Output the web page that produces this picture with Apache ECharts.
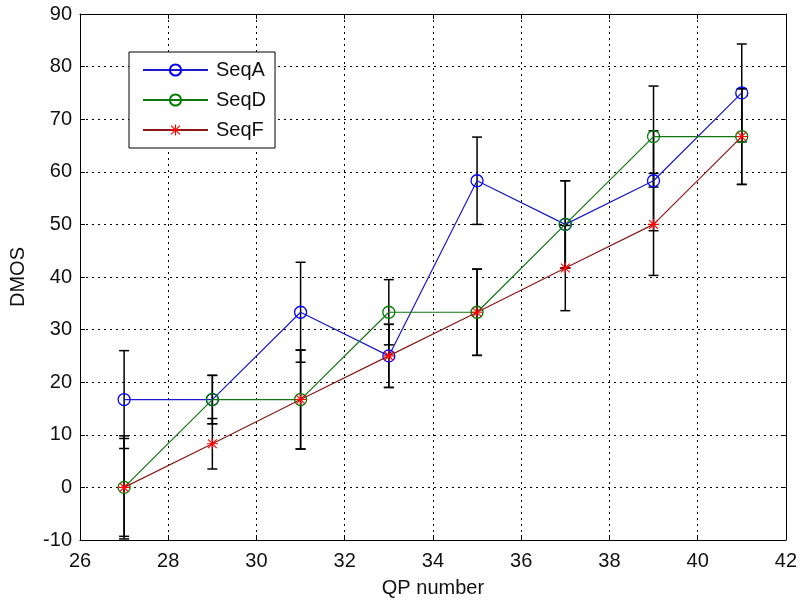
<!DOCTYPE html>
<html>
<head>
    <meta charset="utf-8"/>
    <title>DMOS vs QP</title>
    <script src="https://cdn.jsdelivr.net/npm/echarts@6/dist/echarts.min.js"></script>
    <style>
        html, body { margin: 0; padding: 0; background: #fff; }
        #chart1 { width: 800px; height: 603px; }
    </style>
</head>
<body>
<div id="chart1"></div>
<script type="text/javascript">
    // data
    var qp = [27, 29, 31, 33, 35, 37, 39, 41];
    var seqA = [16.7, 16.7, 33.3, 25, 58.3, 50, 58.3, 75];
    var seqD = [0, 16.7, 16.7, 33.3, 33.3, 50, 66.7, 66.7];
    var seqF = [0, 8.3, 16.7, 25, 33.3, 41.7, 50, 66.7];
    // half length of the error bars
    var errA = [9.3, 4.6, 9.5, 6.0, 8.3, 8.3, 9.5, 9.3];
    var errD = [9.3, 4.6, 9.4, 6.2, 8.2, 8.3, 9.6, 9.1];
    var errF = [9.8, 4.8, 9.4, 6.0, 8.2, 8.1, 9.7, 9.1];
    var xTicks = [26, 28, 30, 32, 34, 36, 38, 40, 42];
    var yTicks = [-10, 0, 10, 20, 30, 40, 50, 60, 70, 80, 90];

    var font = 'Liberation Sans, Arial, sans-serif';
    // asterisk marker like matlab '*'
    var star = 'path://M0 9L20 9L20 11L0 11Z M9 0L11 0L11 20L9 20Z M1.4 2.8L2.8 1.4L18.6 17.2L17.2 18.6Z M17.2 1.4L18.6 2.8L2.8 18.6L1.4 17.2Z';

    function pts(ys) {
        return qp.map(function (x, i) { return [x, ys[i]]; });
    }
    function bars(ys, es) {
        return qp.map(function (x, i) { return [x, ys[i] - es[i], ys[i] + es[i]]; });
    }
    function errSeries(name, ys, es) {
        return {
            name: name,
            type: 'custom',
            z: 1,
            silent: true,
            data: bars(ys, es),
            renderItem: function (params, api) {
                var lo = api.coord([api.value(0), api.value(1)]);
                var hi = api.coord([api.value(0), api.value(2)]);
                var w = 5;
                var st = { stroke: '#000', lineWidth: 1.5 };
                return {
                    type: 'group',
                    children: [
                        { type: 'line', shape: { x1: lo[0], y1: lo[1], x2: hi[0], y2: hi[1] }, style: st },
                        { type: 'line', shape: { x1: lo[0] - w, y1: lo[1], x2: lo[0] + w, y2: lo[1] }, style: st },
                        { type: 'line', shape: { x1: hi[0] - w, y1: hi[1], x2: hi[0] + w, y2: hi[1] }, style: st }
                    ]
                };
            }
        };
    }

    var myChart1 = echarts.init(document.getElementById('chart1'));
    var axisLine = { onZero: false, lineStyle: { color: '#000', width: 1 } };
    var tick = { inside: true, length: 5, lineStyle: { color: '#000' } };
    var grid = { show: true, lineStyle: { color: '#000', type: [2, 4], width: 1 } };
    var lbl = { color: '#111', fontFamily: font, fontSize: 20 };

    myChart1.setOption({
        animation: false,
        backgroundColor: '#fff',
        grid: { left: 80, right: 10, top: 14, bottom: 57 },
        legend: {
            data: ['SeqA', 'SeqD', 'SeqF'],
            orient: 'vertical',
            left: 129,
            top: 52,
            backgroundColor: '#fff',
            borderColor: '#000',
            borderWidth: 1,
            borderRadius: 0,
            padding: [8, 9, 8, 13],
            itemWidth: 65,
            itemHeight: 14,
            itemGap: 10,
            textStyle: { color: '#111', fontFamily: font, fontSize: 20, lineHeight: 20, padding: [0, 0, 0, 3] }
        },
        xAxis: [{
            type: 'value', min: 26, max: 42, interval: 2,
            name: 'QP number', nameLocation: 'middle', nameGap: 38,
            nameTextStyle: lbl,
            axisLine: axisLine, axisTick: tick, splitLine: grid,
            axisLabel: Object.assign({ margin: 11 }, lbl)
        }, {
            type: 'value', min: 26, max: 42, interval: 2, position: 'top',
            axisLine: axisLine, axisTick: tick, splitLine: { show: false },
            axisLabel: { show: false }
        }],
        yAxis: [{
            type: 'value', min: -10, max: 90, interval: 10,
            name: 'DMOS', nameLocation: 'middle', nameGap: 52, nameRotate: 90,
            nameTextStyle: lbl,
            axisLine: axisLine, axisTick: tick, splitLine: grid,
            axisLabel: Object.assign({ margin: 8 }, lbl)
        }, {
            type: 'value', min: -10, max: 90, interval: 10, position: 'right',
            axisLine: axisLine, axisTick: tick, splitLine: { show: false },
            axisLabel: { show: false }
        }],
        series: [
            errSeries('errA', seqA, errA),
            errSeries('errD', seqD, errD),
            errSeries('errF', seqF, errF),
            {
                name: 'SeqA', type: 'line', z: 3, data: pts(seqA),
                symbol: 'circle', symbolSize: 12,
                lineStyle: { color: '#1a1acc', width: 1.2 },
                itemStyle: { color: 'rgba(0,0,0,0)', borderColor: '#0000ff', borderWidth: 1.3 }
            },
            {
                name: 'SeqD', type: 'line', z: 4, data: pts(seqD),
                symbol: 'circle', symbolSize: 12,
                lineStyle: { color: '#127512', width: 1.2 },
                itemStyle: { color: 'rgba(0,0,0,0)', borderColor: '#008000', borderWidth: 1.3 }
            },
            {
                name: 'SeqF', type: 'line', z: 5, data: pts(seqF),
                symbol: star, symbolSize: 11, symbolKeepAspect: true,
                lineStyle: { color: '#8a1a1a', width: 1.2 },
                itemStyle: { color: '#ff0000', borderWidth: 0 }
            }
        ]
    });
</script>
</body>
</html>
